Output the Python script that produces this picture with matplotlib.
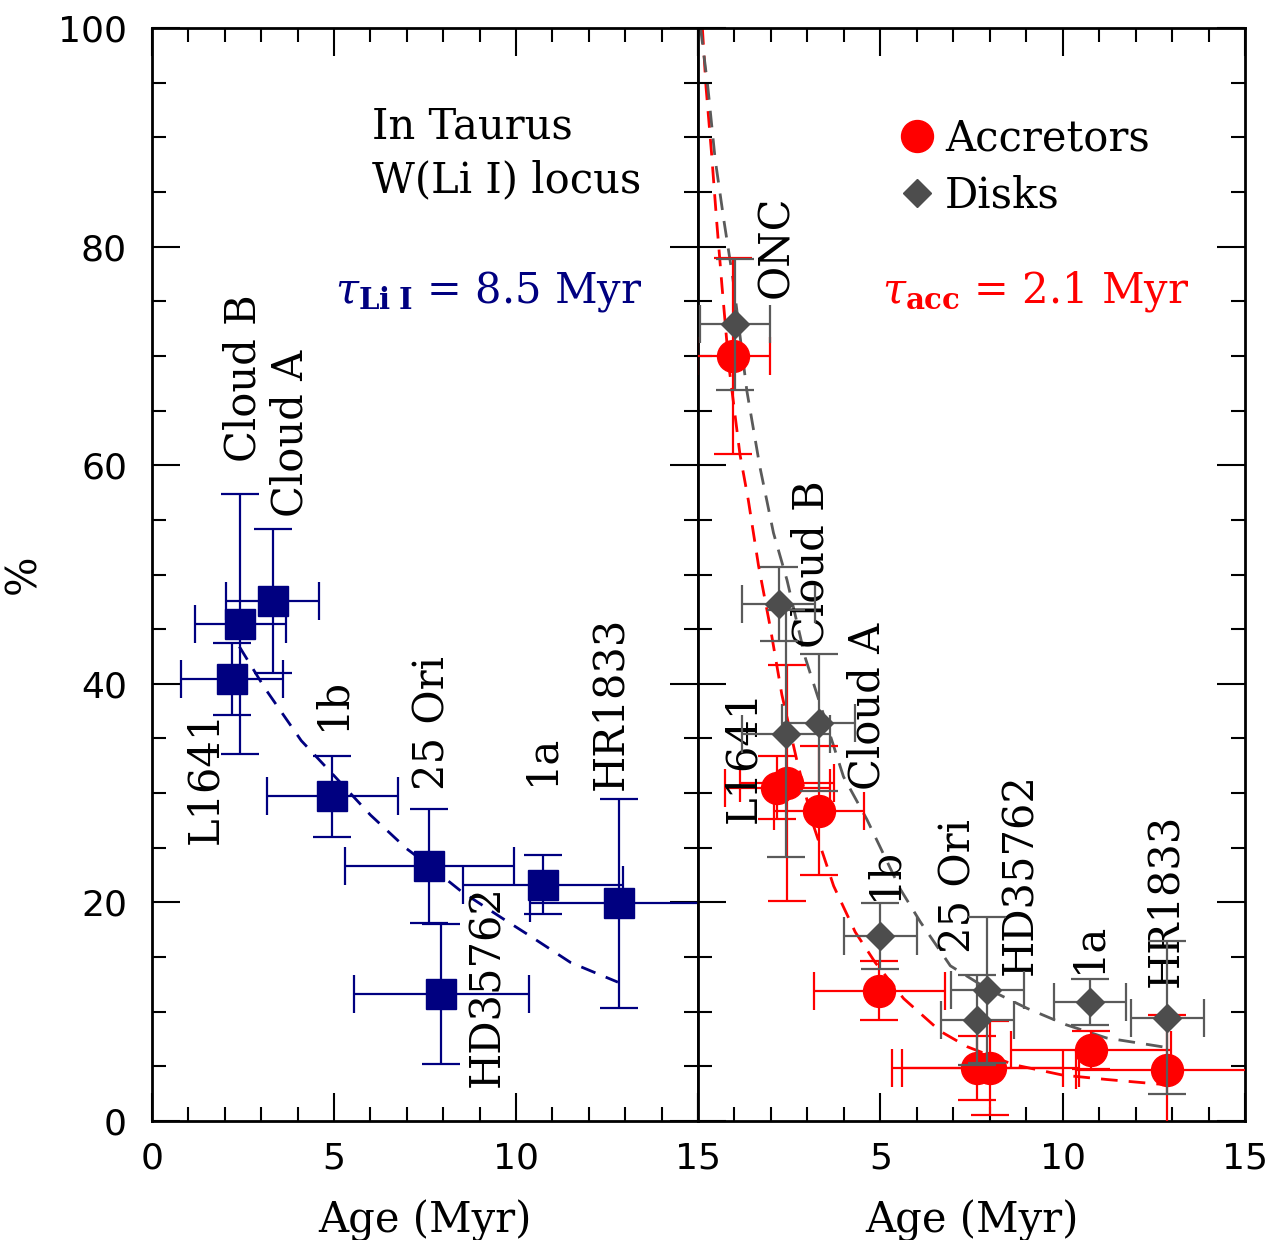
import numpy as np
import matplotlib
matplotlib.use("Agg")
import matplotlib.pyplot as plt
from matplotlib.ticker import MultipleLocator
from matplotlib.lines import Line2D

plt.rcParams['font.family'] = 'DejaVu Serif'
plt.rcParams['mathtext.fontset'] = 'dejavuserif'
plt.rcParams['lines.scale_dashes'] = False

# left panel: Li I depleted fraction (in Taurus W(Li I) locus)
li_names = ["L1641", "Cloud B", "Cloud A", "1b", "25 Ori", "HD35762", "1a", "HR1833"]
li_age = [2.21, 2.43, 3.32, 4.95, 7.62, 7.95, 10.74, 12.84]
li_age_err = [1.4, 1.25, 1.28, 1.8, 2.33, 2.4, 2.2, 2.45]
li_pct = [40.4, 45.5, 47.6, 29.7, 23.3, 11.6, 21.6, 19.9]
li_pct_err = [3.3, 11.9, 6.6, 3.7, 5.2, 6.4, 2.7, 9.6]

# exponential fit, tau = 8.5 Myr
li_fit_age = [2.4, 3.1, 4.1, 5.0, 6.0, 7.0, 7.6, 8.5, 9.6, 10.4, 11.5, 12.8]
li_fit_pct = [43.4, 39.6, 34.8, 31.6, 28.0, 24.9, 23.4, 21.0, 18.6, 16.9, 14.5, 12.7]

# right panel: accretors and disks
acc_age = [0.97, 2.18, 2.44, 3.31, 4.97, 7.66, 8.02, 10.77, 12.87]
acc_age_err = [1.0, 1.45, 1.28, 1.23, 1.8, 2.35, 2.42, 2.2, 2.5]
acc_pct = [70.0, 30.5, 30.9, 28.4, 11.9, 4.85, 4.85, 6.5, 4.7]
acc_pct_err = [9.0, 2.9, 10.8, 5.9, 2.7, 2.9, 4.3, 1.7, 5.0]

disk_age = [1.02, 2.21, 2.42, 3.31, 5.0, 7.66, 7.93, 10.75, 12.87]
disk_age_err = [0.96, 1.0, 1.2, 1.0, 1.0, 1.0, 1.0, 1.0, 1.0]
disk_pct = [72.9, 47.3, 35.45, 36.45, 16.9, 9.24, 11.97, 10.85, 9.45]
disk_pct_err = [6.0, 3.4, 11.3, 6.3, 3.0, 4.1, 6.7, 2.1, 7.0]

acc_fit_age = [0.12, 0.22, 0.37, 0.51, 0.66, 0.85, 1.15, 1.38, 1.66, 1.98, 2.3, 2.71,
               3.17, 3.72, 4.31, 4.86, 5.64, 6.65, 7.38, 8.66, 10.0, 11.2, 12.9]
acc_fit_pct = [100, 94.6, 88.6, 82.4, 76.3, 69, 61, 56.8, 50.8, 45.2, 39, 33,
               27, 21.5, 17.3, 14.5, 11.2, 8.2, 6.8, 5.15, 4.2, 3.8, 3.3]
disk_fit_age = [0.07, 0.27, 0.47, 0.71, 0.96, 1.34, 1.7, 2.07, 2.44, 2.94, 3.99, 4.63,
                5.55, 6.1, 6.92, 7.93, 9.03, 10.1, 11.2, 12.9]
disk_fit_pct = [100, 94.6, 88, 82.4, 77, 66.8, 59.8, 53.8, 49.5, 42.4, 31.5, 27.6,
                21.2, 18.2, 14.2, 12.1, 10.3, 8.8, 7.6, 6.7]

# label positions (x centre, bottom) in data units
li_lab_x = [1.45, 2.5, 3.8, 4.95, 7.7, 9.2, 10.7, 12.6]
li_lab_y = [25.3, 60.3, 55.3, 35.8, 30.3, 3.1, 30.7, 30.3]
r_names = ["ONC", "L1641", "Cloud B", "Cloud A", "1b", "25 Ori", "HD35762", "1a", "HR1833"]
r_lab_x = [2.14, 1.24, 3.1, 4.66, 5.1, 7.14, 8.85, 10.7, 12.8]
r_lab_y = [75.3, 27.3, 43.3, 30.3, 20.2, 15.4, 13.4, 13.5, 12.3]

navy = '#000080'
red = '#ff0000'
gray = '#4d4d4d'
egray = '#5a5a5a'

fig = plt.figure(figsize=(12.78, 12.40), dpi=100)
ax1 = fig.add_axes([152/1278, 119/1240, 546/1278, 1093/1240])
ax2 = fig.add_axes([698/1278, 119/1240, 547/1278, 1093/1240], sharey=ax1)

# left panel
ax1.plot(li_fit_age, li_fit_pct, color=navy, lw=2.0, dashes=(11, 8), zorder=1)
ax1.errorbar(li_age, li_pct, xerr=li_age_err, yerr=li_pct_err, fmt='s', color=navy,
             ms=21, elinewidth=1.6, capsize=14, capthick=1.6, zorder=3)
for name, x, y in zip(li_names, li_lab_x, li_lab_y):
    ax1.text(x, y, name, rotation=90, ha='center', va='bottom', fontsize=30)

ax1.text(6.04, 89.9, "In Taurus", fontsize=30, va='baseline')
ax1.text(6.04, 85.0, "W(Li I) locus", fontsize=30, va='baseline')
ax1.text(5.03, 74.9, r"$\tau_{\mathbf{Li\ I}}$ = 8.5 Myr", fontsize=30, color=navy, va='baseline')

# right panel
ax2.plot(acc_fit_age, acc_fit_pct, color=red, lw=2.0, dashes=(12, 8), zorder=1)
ax2.plot(disk_fit_age, disk_fit_pct, color=egray, lw=2.0, dashes=(12, 8), zorder=1)
ax2.errorbar(acc_age, acc_pct, xerr=acc_age_err, yerr=acc_pct_err, fmt='o', color=red,
             ms=23, elinewidth=1.6, capsize=14, capthick=1.6, zorder=3)
ax2.errorbar(disk_age, disk_pct, xerr=disk_age_err, yerr=disk_pct_err, fmt='D', color=gray,
             ecolor=egray, ms=14, elinewidth=1.6, capsize=14, capthick=1.6, zorder=4)
for name, x, y in zip(r_names, r_lab_x, r_lab_y):
    ax2.text(x, y, name, rotation=90, ha='center', va='bottom', fontsize=30)

ax2.text(5.05, 74.9, r"$\tau_{\mathbf{acc}}$ = 2.1 Myr", fontsize=30, color=red, va='baseline')

handles = [Line2D([], [], marker='o', color=red, ms=23, ls='none'),
           Line2D([], [], marker='D', color=gray, ms=14, ls='none')]
ax2.legend(handles, ["Accretors", "Disks"], loc='center left', bbox_to_anchor=(0.378, 0.873),
           frameon=False, fontsize=30, handlelength=0.6, handletextpad=0.36,
           labelspacing=0.36, borderpad=0, borderaxespad=0)

for ax in (ax1, ax2):
    ax.set_xlim(0, 15)
    ax.set_ylim(0, 100)
    ax.set_xticks([0, 5, 10, 15])
    ax.xaxis.set_minor_locator(MultipleLocator(1))
    ax.set_yticks([0, 20, 40, 60, 80, 100])
    ax.yaxis.set_minor_locator(MultipleLocator(5))
    ax.tick_params(which='both', direction='in', top=True, right=True, width=1.5)
    ax.tick_params(which='major', length=20)
    ax.tick_params(which='minor', length=10)
    ax.tick_params(axis='x', pad=15)
    ax.tick_params(axis='y', pad=18)
    for sp in ax.spines.values():
        sp.set_linewidth(2)
    for lab in ax.get_xticklabels() + ax.get_yticklabels():
        lab.set_fontfamily('DejaVu Sans')
        lab.set_fontsize(26)
    ax.set_xlabel("Age (Myr)", fontsize=30, labelpad=17)

ax2.set_xticklabels(['', '5', '10', '15'])
for lab in ax2.get_xticklabels():
    lab.set_fontfamily('DejaVu Sans')
    lab.set_fontsize(26)
ax2.tick_params(labelleft=False)
ax1.set_ylabel("%", fontsize=30, labelpad=10)

fig.savefig("out.png", dpi=100)
